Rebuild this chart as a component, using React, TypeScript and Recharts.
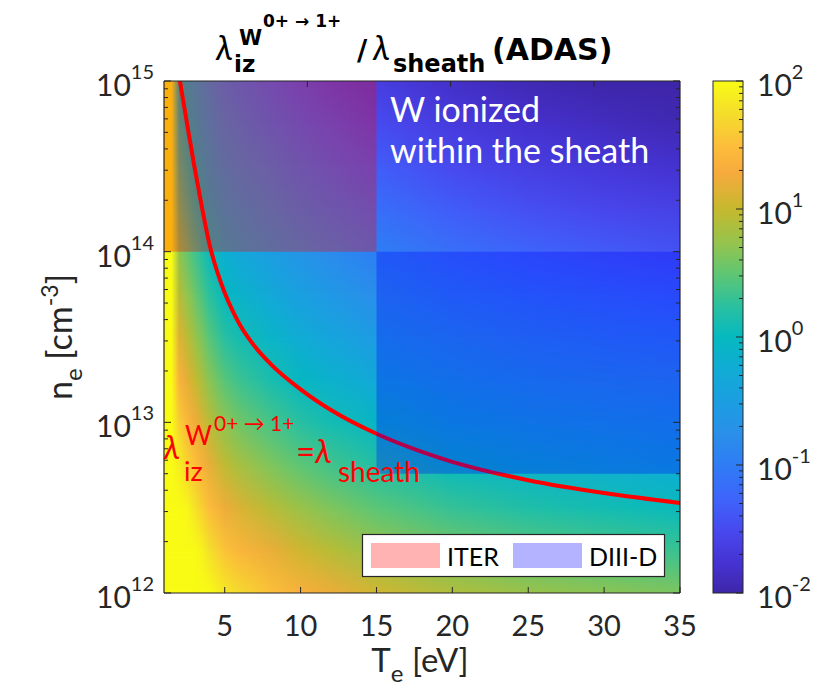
import React from "react";
import { ComposedChart, XAxis, YAxis, Line, ReferenceArea } from "recharts";

// temperature columns of the ratio map [eV]
const teCols = [1, 1.5, 2, 2.5, 3, 3.5, 4, 5, 6, 8, 10, 12, 15, 20, 25, 30, 35];
// log10 of the electron density of each map row [cm^-3]
const logNeRows = [12, 12.25, 12.5, 12.75, 13, 13.25, 13.5, 13.75, 14, 14.25, 14.5, 14.75, 15];
// log10(lambda_iz / lambda_sheath): one row per density, one entry per temperature column
const logRatio = [
  [6.0, 5.0, 2.75, 2.56, 2.4, 2.23, 2.06, 1.83, 1.7, 1.51, 1.35, 1.22, 1.06, 0.88, 0.76, 0.69, 0.62],
  [5.7, 4.75, 2.45, 2.26, 2.09, 1.92, 1.76, 1.53, 1.4, 1.21, 1.05, 0.92, 0.76, 0.58, 0.46, 0.38, 0.31],
  [5.4, 4.5, 2.16, 1.97, 1.8, 1.63, 1.47, 1.23, 1.11, 0.92, 0.76, 0.63, 0.47, 0.29, 0.17, 0.09, 0.02],
  [5.1, 4.25, 1.88, 1.69, 1.52, 1.36, 1.19, 0.96, 0.83, 0.64, 0.48, 0.35, 0.19, 0.01, -0.11, -0.19, -0.25],
  [4.8, 4.0, 1.62, 1.43, 1.26, 1.1, 0.93, 0.7, 0.57, 0.38, 0.22, 0.09, -0.07, -0.25, -0.37, -0.45, -0.52],
  [4.5, 3.75, 1.37, 1.18, 1.02, 0.85, 0.68, 0.45, 0.32, 0.13, -0.03, -0.16, -0.32, -0.5, -0.62, -0.69, -0.76],
  [4.2, 3.5, 1.14, 0.95, 0.78, 0.62, 0.45, 0.22, 0.09, -0.1, -0.26, -0.39, -0.55, -0.73, -0.85, -0.93, -0.99],
  [3.9, 3.25, 0.92, 0.73, 0.57, 0.4, 0.23, 0.0, -0.13, -0.32, -0.48, -0.61, -0.77, -0.95, -1.07, -1.14, -1.21],
  [3.6, 3.0, 0.72, 0.53, 0.36, 0.2, 0.03, -0.2, -0.33, -0.52, -0.68, -0.81, -0.97, -1.15, -1.27, -1.35, -1.42],
  [3.3, 2.75, 0.53, 0.34, 0.17, 0.01, -0.16, -0.39, -0.52, -0.71, -0.87, -1.0, -1.16, -1.34, -1.46, -1.54, -1.6],
  [3.0, 2.5, 0.36, 0.17, 0.0, -0.17, -0.33, -0.57, -0.7, -0.88, -1.05, -1.17, -1.33, -1.51, -1.63, -1.71, -1.78],
  [2.7, 2.25, 0.2, 0.01, -0.16, -0.33, -0.49, -0.73, -0.85, -1.04, -1.2, -1.33, -1.49, -1.67, -1.79, -1.87, -1.94],
  [2.4, 2.0, 0.05, -0.14, -0.3, -0.47, -0.64, -0.87, -1.0, -1.19, -1.35, -1.48, -1.64, -1.82, -1.94, -2.01, -2.08],
];

// lambda_iz = lambda_sheath contour
const contourTe = [2.05, 2.5, 3, 3.5, 4, 4.5, 5, 5.5, 6, 7, 8, 10, 12, 15, 18, 20, 25, 30, 35];
const contourNe = [
  1e15, 5.75e14, 3.16e14, 1.82e14, 1.1e14, 7.66e13, 5.74e13, 4.54e13, 3.73e13, 2.77e13, 2.21e13, 1.56e13,
  1.18e13, 8.57e12, 6.71e12, 5.87e12, 4.58e12, 3.85e12, 3.37e12,
];

// operating windows
const iterTe = [1, 15];
const iterNe = [1e14, 1e15];
const diiidTe = [15, 35];
const diiidNe = [5e12, 1e14];

const xTicks = [5, 10, 15, 20, 25, 30, 35];
const neDecades = [12, 13, 14, 15];
const ratioDecades = [-2, -1, 0, 1, 2];

const INK = "#262626";
const FONT = "Lato, 'Open Sans', sans-serif";
const BOLD = "'DejaVu Sans', Lato, sans-serif";

const PARULA: [number, string][] = [
  [0.0, "#3e26a8"], [0.06, "#4633d3"], [0.12, "#4848ed"], [0.18, "#3f63fb"], [0.25, "#2f7cf5"],
  [0.31, "#2a8fe9"], [0.37, "#1c9de2"], [0.44, "#10acd4"], [0.5, "#05b9bf"], [0.56, "#2ac0a0"],
  [0.62, "#5cc675"], [0.68, "#92c44f"], [0.75, "#c6b92e"], [0.82, "#f6aa3c"], [0.87, "#fdbc3c"],
  [0.94, "#f4df2a"], [1.0, "#f9fb15"],
];

const rgb = (h: string) => [1, 3, 5].map((i) => parseInt(h.slice(i, i + 2), 16));

function parula(t: number) {
  const u = Math.min(1, Math.max(0, t));
  for (let k = 1; k < PARULA.length; k++) {
    const [t1, c1] = PARULA[k];
    if (u <= t1) {
      const [t0, c0] = PARULA[k - 1];
      const f = (u - t0) / (t1 - t0);
      const a = rgb(c0);
      const b = rgb(c1);
      return `rgb(${a.map((v, j) => Math.round(v + (b[j] - v) * f)).join(",")})`;
    }
  }
  return PARULA[PARULA.length - 1][1];
}

// colour axis spans 10^-2 .. 10^2
const ratioColor = (lr: number) => parula((lr + 2) / 4);

// decade ticks plus 2..9 minor ticks
const logTicks = (decs: number[]) => {
  const out: number[] = [];
  decs.forEach((d, i) => {
    out.push(10 ** d);
    if (i < decs.length - 1) for (let k = 2; k < 10; k++) out.push(k * 10 ** d);
  });
  return out;
};
const isDecade = (v: number) => Math.abs(Math.log10(v) - Math.round(Math.log10(v))) < 1e-6;

const contour = contourTe.map((te, i) => ({ te, ne: contourNe[i] }));
const teMin = teCols[0];
const teMax = teCols[teCols.length - 1];
const barData = ratioDecades.map((d) => ({ x: 0.5, r: 10 ** d }));

const Pow10 = ({ x, y, v, anchor }: any) => (
  <text x={x} y={y} textAnchor={anchor} fontSize={30} fill={INK} fontFamily={FONT}>
    <tspan>10</tspan>
    <tspan dy={-17} fontSize={20}>{Math.round(Math.log10(v))}</tspan>
  </text>
);

const BottomTick = (p: any) => (
  <g>
    <line x1={p.x} y1={p.y} x2={p.x} y2={p.y - 6} stroke={INK} />
    <text x={p.x} y={p.y + 43} textAnchor="middle" fontSize={29} fill={INK} fontFamily={FONT}>
      {p.payload.value}
    </text>
  </g>
);
const TopTick = (p: any) => <line x1={p.x} y1={p.y} x2={p.x} y2={p.y + 6} stroke={INK} />;

const LeftTick = (p: any) => {
  const major = isDecade(p.payload.value);
  return (
    <g>
      <line x1={p.x} y1={p.y} x2={p.x + (major ? 7 : 4)} y2={p.y} stroke={INK} />
      {major && <Pow10 x={p.x - 10} y={p.y + 15} v={p.payload.value} anchor="end" />}
    </g>
  );
};
const RightTick = (p: any) => {
  const major = isDecade(p.payload.value);
  return <line x1={p.x} y1={p.y} x2={p.x - (major ? 7 : 4)} y2={p.y} stroke={INK} />;
};
const BarTick = (p: any) => {
  const major = isDecade(p.payload.value);
  return (
    <g>
      <line x1={p.x} y1={p.y} x2={p.x - (major ? 7 : 4)} y2={p.y} stroke={INK} />
      {major && <Pow10 x={p.x + 14} y={p.y + 15} v={p.payload.value} anchor="start" />}
    </g>
  );
};

function HeatMap() {
  const last = logNeRows.length - 1;
  return (
    <ComposedChart width={828} height={691} data={contour} margin={{ top: 80, right: 147, bottom: 38, left: 64 }}>
      <defs>
        {logRatio.map((row, i) => (
          <linearGradient key={i} id={`heat-row-${i}`} x1="0" y1="0" x2="1" y2="0">
            {row.map((v, j) => (
              <stop key={j} offset={(teCols[j] - teMin) / (teMax - teMin)} stopColor={ratioColor(v)} />
            ))}
          </linearGradient>
        ))}
        <linearGradient id="fade-mid-g" x1="0" y1="0" x2="0" y2="1">
          <stop offset="0" stopColor="#fff" />
          <stop offset="0.5" stopColor="#fff" />
          <stop offset="1" stopColor="#fff" stopOpacity={0} />
        </linearGradient>
        <linearGradient id="fade-top-g" x1="0" y1="0" x2="0" y2="1">
          <stop offset="0" stopColor="#fff" />
          <stop offset="1" stopColor="#fff" stopOpacity={0} />
        </linearGradient>
        <mask id="fade-mid" maskContentUnits="objectBoundingBox">
          <rect x="0" y="0" width="1" height="1" fill="url(#fade-mid-g)" />
        </mask>
        <mask id="fade-top" maskContentUnits="objectBoundingBox">
          <rect x="0" y="0" width="1" height="1" fill="url(#fade-top-g)" />
        </mask>
      </defs>

      {/* each density row is a strip that fades in over the previous one */}
      {logNeRows.map((ln, i) => {
        const lo = i === 0 ? ln : logNeRows[i - 1];
        const hi = i === last ? ln : logNeRows[i + 1];
        const mask = i === 0 ? undefined : i === last ? "url(#fade-top)" : "url(#fade-mid)";
        return (
          <ReferenceArea
            key={`row-${i}`}
            x1={teMin}
            x2={teMax}
            y1={10 ** lo}
            y2={10 ** hi}
            zIndex={50}
            shape={(p: any) => (
              <rect x={p.x} y={p.y} width={p.width} height={p.height} fill={`url(#heat-row-${i})`} mask={mask} />
            )}
          />
        );
      })}

      <Line
        type="monotone"
        dataKey="ne"
        stroke="#ff0000"
        strokeWidth={4}
        dot={false}
        activeDot={false}
        isAnimationActive={false}
      />

      <ReferenceArea x1={iterTe[0]} x2={iterTe[1]} y1={iterNe[0]} y2={iterNe[1]} fill="#ff0000" fillOpacity={0.3} stroke="none" zIndex={450} />
      <ReferenceArea x1={diiidTe[0]} x2={diiidTe[1]} y1={diiidNe[0]} y2={diiidNe[1]} fill="#0000ff" fillOpacity={0.3} stroke="none" zIndex={450} />

      <XAxis
        dataKey="te"
        type="number"
        domain={[teMin, teMax]}
        ticks={xTicks}
        interval={0}
        height={60}
        tickSize={0}
        tickMargin={0}
        tickLine={false}
        axisLine={{ stroke: INK, strokeWidth: 1.2 }}
        tick={<BottomTick />}
        allowDataOverflow
      />
      <XAxis
        xAxisId="top"
        orientation="top"
        type="number"
        domain={[teMin, teMax]}
        ticks={xTicks}
        interval={0}
        height={1}
        tickSize={0}
        tickMargin={0}
        tickLine={false}
        axisLine={{ stroke: INK, strokeWidth: 1.2 }}
        tick={<TopTick />}
        allowDataOverflow
      />
      <YAxis
        type="number"
        scale="log"
        domain={[1e12, 1e15]}
        ticks={logTicks(neDecades)}
        interval={0}
        width={100}
        tickSize={0}
        tickMargin={0}
        tickLine={false}
        axisLine={{ stroke: INK, strokeWidth: 1.2 }}
        tick={<LeftTick />}
        allowDataOverflow
      />
      <YAxis
        yAxisId="right"
        orientation="right"
        type="number"
        scale="log"
        domain={[1e12, 1e15]}
        ticks={logTicks(neDecades)}
        interval={0}
        width={1}
        tickSize={0}
        tickMargin={0}
        tickLine={false}
        axisLine={{ stroke: INK, strokeWidth: 1.2 }}
        tick={<RightTick />}
        allowDataOverflow
      />
    </ComposedChart>
  );
}

function ColorBar() {
  return (
    <ComposedChart width={128} height={691} data={barData} margin={{ top: 81, right: 0, bottom: 98, left: 13 }}>
      <defs>
        <linearGradient id="cbar" x1="0" y1="1" x2="0" y2="0">
          {PARULA.map(([t, c]) => (
            <stop key={t} offset={t} stopColor={c} />
          ))}
        </linearGradient>
      </defs>
      <ReferenceArea
        x1={0}
        x2={1}
        y1={1e-2}
        y2={1e2}
        shape={(p: any) => (
          <rect x={p.x} y={p.y} width={p.width} height={p.height} fill="url(#cbar)" stroke={INK} strokeWidth={1} />
        )}
      />
      <XAxis dataKey="x" type="number" domain={[0, 1]} allowDataOverflow hide />
      <YAxis
        orientation="right"
        dataKey="r"
        type="number"
        scale="log"
        domain={[1e-2, 1e2]}
        ticks={logTicks(ratioDecades)}
        interval={0}
        width={85}
        tickSize={0}
        tickMargin={0}
        tickLine={false}
        axisLine={false}
        tick={<BarTick />}
        allowDataOverflow
      />
    </ComposedChart>
  );
}

function Annotations() {
  const t = { fontFamily: FONT };
  return (
    <svg width={828} height={691} style={{ position: "absolute", left: 0, top: 0, pointerEvents: "none" }}>
      {/* title */}
      <g fontFamily={BOLD} fill="#000" fontWeight="bold">
        <text x={216} y={60} fontSize={34} fontStyle="italic" fontWeight="normal" fontFamily={FONT}>λ</text>
        <text x={234} y={72} fontSize={23}>iz</text>
        <text x={239} y={45} fontSize={21}>W</text>
        <text x={263} y={27} fontSize={17}>0+ → 1+</text>
        <text x={357} y={60} fontSize={28}>/</text>
        <text x={373} y={60} fontSize={34} fontStyle="italic" fontWeight="normal" fontFamily={FONT}>λ</text>
        <text x={393} y={72} fontSize={24}>sheath</text>
        <text x={492} y={60} fontSize={30}>(ADAS)</text>
      </g>

      {/* axis titles */}
      <text x={420} y={672} textAnchor="middle" fontSize={33} fill={INK} {...t}>
        T<tspan dy={10} fontSize={24}>e</tspan>
        <tspan dy={-10}> [eV]</tspan>
      </text>
      <text transform="translate(72,337) rotate(-90)" textAnchor="middle" fontSize={34} fill={INK} {...t}>
        n<tspan dy={10} fontSize={24}>e</tspan>
        <tspan dy={-10}> [cm</tspan>
        <tspan dy={-14} fontSize={23}>-3</tspan>
        <tspan dy={14}>]</tspan>
      </text>

      {/* region note */}
      <g {...t} fill="#ffffff" fontSize={34}>
        <text x={390} y={122}>W ionized</text>
        <text x={390} y={163}>within the sheath</text>
      </g>

      {/* contour label */}
      <g {...t} fill="#ff0000">
        <text x={164} y={459} fontSize={32} fontStyle="italic">λ</text>
        <text x={184} y={481} fontSize={27}>iz</text>
        <text x={185} y={445} fontSize={26}>W</text>
        <text x={214} y={431} fontSize={21}>0+ → 1+</text>
        <text x={296} y={463} fontSize={33}>=<tspan fontStyle="italic">λ</tspan></text>
        <text x={338} y={482} fontSize={28}>sheath</text>
      </g>

      {/* legend */}
      <g {...t}>
        <rect x={362.5} y={534.5} width={302} height={42} fill="#ffffff" stroke={INK} strokeWidth={1.2} />
        <rect x={371} y={543} width={69} height={25} fill="#ffb3b3" />
        <text x={447} y={566} fontSize={25} fill="#000">ITER</text>
        <rect x={513} y={543} width={69} height={25} fill="#b3b3ff" />
        <text x={589} y={566} fontSize={25} fill="#000">DIII-D</text>
      </g>
    </svg>
  );
}

export default function App() {
  return (
    <div style={{ position: "absolute", left: 0, top: 0, width: 828, height: 691, background: "#fff" }}>
      <HeatMap />
      <div style={{ position: "absolute", left: 700, top: 0 }}>
        <ColorBar />
      </div>
      <Annotations />
    </div>
  );
}
